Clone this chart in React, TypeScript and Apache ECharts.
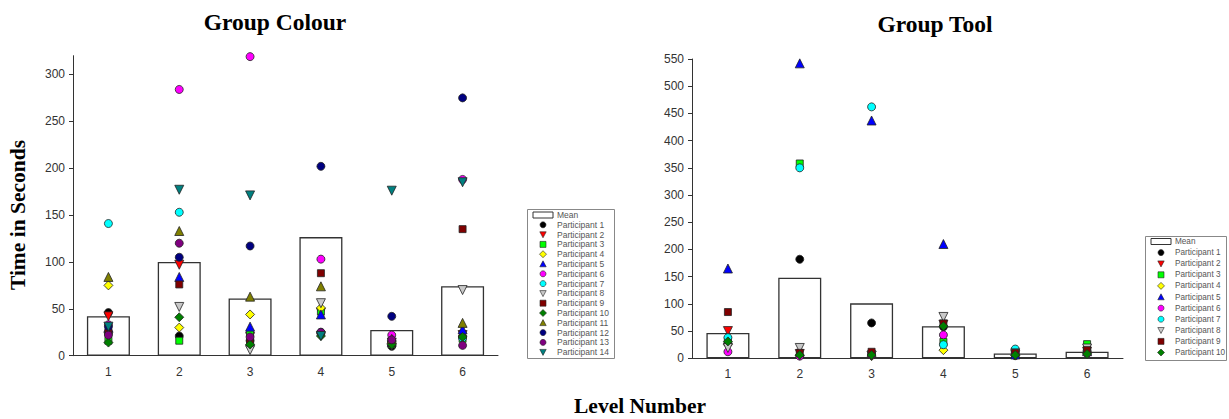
import React, { useEffect, useRef } from "react";
import * as echarts from "echarts";

const levels = ["1", "2", "3", "4", "5", "6"];

// Group Colour (14 participants)
const colourMean = [42, 100, 61, 126.5, 27.5, 74];
const colourP1 = [46, 21, 16, 24, 10, 20];
const colourP2 = [42, 97, 20, 46, 14, 22];
const colourP3 = [16, 16, 24, 47, 12, 18];
const colourP4 = [75, 30, 44, 51, 13, 21];
const colourP5 = [30, 84, 31, 44, 15, 28];
const colourP6 = [33, 284, 319, 103, 22, 188];
const colourP7 = [141, 153, 11, 25, 16, 19];
const colourP8 = [20, 52, 6, 56, 11, 70];
const colourP9 = [25, 76, 14, 88, 13, 135];
const colourP10 = [14, 41, 12, 21, 12, 20];
const colourP11 = [84, 133, 63, 74, 18, 35];
const colourP12 = [31, 105, 117, 202, 42, 275];
const colourP13 = [22, 120, 20, 25, 17, 11];
const colourP14 = [31, 177, 171, 21, 176, 185];

// Group Tool (10 participants)
const toolMean = [46.5, 148, 101, 59, 9, 12];
const toolP1 = [28, 182, 65, 58, 5, 10];
const toolP2 = [50, 8, 5, 62, 6, 12];
const toolP3 = [33, 358, 8, 30, 8, 26];
const toolP4 = [25, 5, 4, 15, 5, 11];
const toolP5 = [165, 542, 437, 210, 7, 13];
const toolP6 = [12, 4, 6, 43, 10, 9];
const toolP7 = [38, 350, 462, 25, 17, 14];
const toolP8 = [19, 19, 5, 76, 9, 18];
const toolP9 = [85, 10, 12, 64, 10, 15];
const toolP10 = [31, 6, 6, 59, 6, 8];

const colourSeriesData = [
  colourP1, colourP2, colourP3, colourP4, colourP5, colourP6, colourP7,
  colourP8, colourP9, colourP10, colourP11, colourP12, colourP13, colourP14,
];
const toolSeriesData = [
  toolP1, toolP2, toolP3, toolP4, toolP5, toolP6, toolP7, toolP8, toolP9, toolP10,
];

const leftTicks = [0, 50, 100, 150, 200, 250, 300];

const DOWN = "path://M0,0L10,0L5,9Z";
const SHAPES = [
  "circle", "down", "rect", "diamond", "triangle", "circle", "circle",
  "down", "rect", "diamond", "triangle", "circle", "circle", "down",
];
const COLORS = [
  "#000000", "#ff0000", "#00ff00", "#ffff00", "#0000ff", "#ff00ff", "#00ffff",
  "#c8c8c8", "#800000", "#008000", "#808000", "#000080", "#800080", "#008080",
];
const SIZES: Record<string, number> = { circle: 8, rect: 7, diamond: 9, triangle: 9, down: 9 };

function seriesSymbol(s: string) {
  return s === "down" ? DOWN : s;
}

function legendIcon(shape: string, cx: number, cy: number, color: string) {
  const style = { fill: color, stroke: "#222", lineWidth: 0.6 };
  const r = 3.2;
  if (shape === "circle") return { type: "circle", shape: { cx, cy, r: 3 }, style };
  if (shape === "rect")
    return { type: "rect", shape: { x: cx - 3, y: cy - 3, width: 6, height: 6 }, style };
  if (shape === "diamond")
    return {
      type: "polygon",
      shape: { points: [[cx, cy - r - 0.3], [cx + r + 0.3, cy], [cx, cy + r + 0.3], [cx - r - 0.3, cy]] },
      style,
    };
  if (shape === "triangle")
    return {
      type: "polygon",
      shape: { points: [[cx, cy - r], [cx + r, cy + 2.8], [cx - r, cy + 2.8]] },
      style,
    };
  return {
    type: "polygon",
    shape: { points: [[cx - r, cy - 2.8], [cx + r, cy - 2.8], [cx, cy + r]] },
    style,
  };
}

function buildLegend(
  x: number,
  y: number,
  w: number,
  h: number,
  firstY: number,
  step: number,
  count: number,
  fontSize: number
) {
  const els: any[] = [];
  els.push({
    type: "rect",
    shape: { x: x + 0.5, y: y + 0.5, width: w, height: h },
    style: { fill: "#fff", stroke: "#888", lineWidth: 1 },
    z: 10,
  });
  const iconL = x + 6;
  const iconCx = iconL + 10;
  const textX = iconL + 24;
  els.push({
    type: "rect",
    shape: { x: iconL, y: firstY - 3, width: 20, height: 6 },
    style: { fill: "#fff", stroke: "#333", lineWidth: 1 },
    z: 11,
  });
  els.push({
    type: "text",
    x: textX,
    y: firstY,
    style: {
      text: "Mean",
      fontSize,
      fontFamily: "Liberation Sans",
      fill: "#555",
      align: "left",
      verticalAlign: "middle",
    },
    z: 11,
  });
  for (let i = 0; i < count; i++) {
    const cy = firstY + step * (i + 1);
    els.push({ ...legendIcon(SHAPES[i], iconCx, cy, COLORS[i]), z: 11 });
    els.push({
      type: "text",
      x: textX,
      y: cy,
      style: {
        text: "Participant " + (i + 1),
        fontSize,
        fontFamily: "Liberation Sans",
        fill: "#555",
        align: "left",
        verticalAlign: "middle",
      },
      z: 11,
    });
  }
  return els;
}

export default function App() {
  const ref = useRef<HTMLDivElement>(null);

  useEffect(() => {
    if (!ref.current) return;
    const chart = echarts.init(ref.current, undefined, { renderer: "svg" });

    const axisCommonX = {
      type: "category" as const,
      data: levels,
      boundaryGap: true,
      axisLine: { lineStyle: { color: "#333", width: 1 } },
      axisTick: { alignWithLabel: true, length: 4, lineStyle: { color: "#333" } },
      axisLabel: { color: "#333", fontSize: 12, fontFamily: "Liberation Sans", margin: 10 },
      splitLine: { show: false },
    };
    const axisCommonY = {
      type: "value" as const,
      min: 0,
      axisLine: { show: true, lineStyle: { color: "#333", width: 1 } },
      axisTick: { show: true, length: 4, lineStyle: { color: "#333" } },
      axisLabel: { color: "#333", fontSize: 12, fontFamily: "Liberation Sans", margin: 8 },
      splitLine: { show: false },
    };

    const series: any[] = [];
    const addGroup = (axis: number, mean: number[], parts: number[][]) => {
      series.push({
        type: "bar",
        name: "Mean",
        xAxisIndex: axis,
        yAxisIndex: axis,
        data: mean,
        barWidth: 43,
        itemStyle: { color: "#ffffff", borderColor: "#333", borderWidth: 1.3 },
        z: 1,
      });
      parts.forEach((d, i) => {
        series.push({
          type: "scatter",
          name: "Participant " + (i + 1),
          xAxisIndex: axis,
          yAxisIndex: axis,
          data: d,
          symbol: seriesSymbol(SHAPES[i]),
          symbolSize: SIZES[SHAPES[i]],
          itemStyle: { color: COLORS[i], borderColor: "#222", borderWidth: 0.8, opacity: 1 },
          z: 3,
        });
      });
    };
    addGroup(0, colourMean, colourSeriesData);
    addGroup(1, toolMean, toolSeriesData);

    const titleStyle = (text: string, fontSize: number) => ({
      text,
      fontSize,
      fontWeight: "bold",
      fontFamily: "Liberation Serif",
      fill: "#000",
      align: "center",
      verticalAlign: "middle",
    });

    chart.setOption({
      animation: false,
      backgroundColor: "#ffffff",
      grid: [
        { left: 73, top: 55.7, width: 425, height: 300 },
        { left: 692, top: 59, width: 431, height: 299.3 },
      ],
      xAxis: [
        { ...axisCommonX, gridIndex: 0 },
        { ...axisCommonX, gridIndex: 1 },
      ],
      yAxis: [
        {
          ...axisCommonY,
          gridIndex: 0,
          max: 320,
          interval: 50,
          axisTick: { ...axisCommonY.axisTick, customValues: leftTicks },
          axisLabel: { ...axisCommonY.axisLabel, customValues: leftTicks },
        },
        { ...axisCommonY, gridIndex: 1, max: 550, interval: 50 },
      ],
      graphic: [
        { type: "text", x: 275, y: 22, style: titleStyle("Group Colour", 23.5) },
        { type: "text", x: 935, y: 24, style: titleStyle("Group Tool", 23.5) },
        {
          type: "text",
          x: 18,
          y: 215,
          rotation: Math.PI / 2,
          style: titleStyle("Time in Seconds", 21.5),
        },
        { type: "text", x: 640, y: 406, style: titleStyle("Level Number", 21.5) },
        ...buildLegend(527, 209, 87, 149, 215, 9.8, 14, 8.5),
        ...buildLegend(1145, 236, 81, 124, 241.5, 11.1, 10, 8.2),
      ],
      series,
    });

    return () => chart.dispose();
  }, []);

  return (
    <div
      ref={ref}
      style={{ position: "fixed", left: 0, top: 0, width: 1229, height: 419, background: "#fff" }}
    />
  );
}
